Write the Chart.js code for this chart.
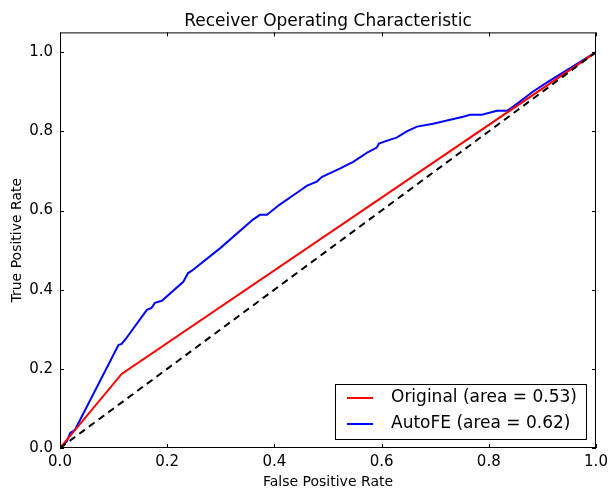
<!DOCTYPE html>
<html>
<head>
<meta charset="utf-8">
<script src="https://cdn.jsdelivr.net/npm/chart.js@4"></script>
<style>
  html, body { margin: 0; padding: 0; background: #fff; }
  #wrap { width: 608px; height: 491px; }
</style>
</head>
<body>
<div id="wrap"><canvas id="rocChart" width="608" height="491"></canvas></div>
<script>
// values
const chanceX = [0, 1];
const chanceY = [0, 1];
const originalFpr = [0, 0.115, 1];
const originalTpr = [0, 0.187, 1];
const autofeFpr = [0, 0.0125, 0.019, 0.028, 0.109, 0.115, 0.123, 0.162, 0.171, 0.177, 0.19, 0.23, 0.239, 0.246, 0.299,
    0.36, 0.373, 0.386, 0.41, 0.442, 0.461, 0.479, 0.489, 0.522, 0.547, 0.573, 0.591, 0.595, 0.616, 0.628, 0.647,
    0.666, 0.696, 0.752, 0.765, 0.787, 0.815, 0.834, 0.845, 0.882, 0.908, 1];
const autofeTpr = [0, 0.016, 0.038, 0.046, 0.26, 0.263, 0.276, 0.349, 0.354, 0.367, 0.372, 0.42, 0.442, 0.448, 0.505,
    0.577, 0.589, 0.589, 0.615, 0.645, 0.663, 0.673, 0.685, 0.706, 0.723, 0.746, 0.759, 0.769, 0.779, 0.784, 0.8,
    0.812, 0.819, 0.837, 0.842, 0.842, 0.852, 0.852, 0.862, 0.9, 0.923, 1];
const xTicks = [0, 0.2, 0.4, 0.6, 0.8, 1.0];
const yTicks = [0, 0.2, 0.4, 0.6, 0.8, 1.0];

const toPoints = (xs, ys) => xs.map((x, i) => ({ x, y: ys[i] }));
const FONT = "'DejaVu Sans', sans-serif";

// box around the plot, inward ticks on all four sides, legend in lower right
const framePlugin = {
    id: 'frame',
    afterDraw(chart) {
        const { ctx, chartArea: a, scales } = chart;
        ctx.save();
        ctx.strokeStyle = '#000';
        ctx.lineWidth = 1;
        ctx.strokeRect(a.left + 0.5, a.top + 0.5, a.right - a.left - 1, a.bottom - a.top - 1);
        ctx.beginPath();
        xTicks.forEach(v => {
            const px = Math.round(scales.x.getPixelForValue(v)) + 0.5;
            ctx.moveTo(px, a.bottom); ctx.lineTo(px, a.bottom - 4);
            ctx.moveTo(px, a.top); ctx.lineTo(px, a.top + 4);
        });
        yTicks.forEach(v => {
            const py = Math.round(scales.y.getPixelForValue(v)) + 0.5;
            ctx.moveTo(a.left, py); ctx.lineTo(a.left + 4, py);
            ctx.moveTo(a.right, py); ctx.lineTo(a.right - 4, py);
        });
        ctx.stroke();

        // legend
        const items = chart.data.datasets.filter(d => d.label);
        const boxW = 251, boxH = 55;
        const bx = a.right - 10 - boxW, by = a.bottom - 9 - boxH;
        ctx.fillStyle = '#fff';
        ctx.fillRect(bx, by, boxW, boxH);
        ctx.strokeStyle = '#000';
        ctx.strokeRect(bx + 0.5, by + 0.5, boxW, boxH);
        ctx.font = '17px ' + FONT;
        ctx.textBaseline = 'middle';
        items.forEach((d, i) => {
            const y = by + 14 + i * 26;
            ctx.strokeStyle = d.borderColor;
            ctx.lineWidth = 2;
            ctx.beginPath();
            ctx.moveTo(bx + 12, y); ctx.lineTo(bx + 38, y);
            ctx.stroke();
            ctx.fillStyle = '#000';
            ctx.fillText(d.label, bx + 56, y);
        });
        ctx.restore();
    }
};

const ctx = document.getElementById('rocChart').getContext('2d');
new Chart(ctx, {
    type: 'scatter',
    data: {
        datasets: [
            {
                data: toPoints(chanceX, chanceY),
                borderColor: '#000',
                borderWidth: 2,
                borderDash: [7, 5],
                showLine: true,
                pointRadius: 0
            },
            {
                label: 'Original (area = 0.53)',
                data: toPoints(originalFpr, originalTpr),
                borderColor: '#ff0000',
                borderWidth: 2,
                showLine: true,
                pointRadius: 0
            },
            {
                label: 'AutoFE (area = 0.62)',
                data: toPoints(autofeFpr, autofeTpr),
                borderColor: '#0000ff',
                borderWidth: 2,
                showLine: true,
                pointRadius: 0
            }
        ]
    },
    options: {
        responsive: false,
        animation: false,
        layout: { padding: { left: 0, right: 12, top: 0, bottom: 0 } },
        plugins: {
            legend: { display: false },
            tooltip: { enabled: false },
            title: {
                display: true,
                text: 'Receiver Operating Characteristic',
                color: '#000',
                fullSize: false,
                font: { family: FONT, size: 17, weight: 'normal' },
                padding: { top: 11, bottom: 1 }
            }
        },
        scales: {
            x: {
                type: 'linear',
                min: 0,
                max: 1,
                afterBuildTicks: s => { s.ticks = xTicks.map(v => ({ value: v })); },
                afterFit: s => { s.height = 43; s.paddingLeft = 0; s.paddingRight = 0; },
                grid: { display: false, drawTicks: false },
                border: { display: false },
                ticks: {
                    color: '#000',
                    padding: 5,
                    maxRotation: 0,
                    font: { family: FONT, size: 15 },
                    callback: v => v.toFixed(1)
                },
                title: {
                    display: true,
                    text: 'False Positive Rate',
                    color: '#000',
                    font: { family: FONT, size: 14 },
                    padding: { top: 2, bottom: 0 }
                }
            },
            y: {
                type: 'linear',
                min: 0,
                max: 1.05,
                afterBuildTicks: s => { s.ticks = yTicks.map(v => ({ value: v })); },
                afterFit: s => { s.width = 60; s.paddingTop = 0; s.paddingBottom = 0; },
                grid: { display: false, drawTicks: false },
                border: { display: false },
                ticks: {
                    color: '#000',
                    padding: 7,
                    font: { family: FONT, size: 15 },
                    callback: v => v.toFixed(1)
                },
                title: {
                    display: true,
                    text: 'True Positive Rate',
                    color: '#000',
                    font: { family: FONT, size: 14 },
                    padding: { top: 9, bottom: 0 }
                }
            }
        }
    },
    plugins: [framePlugin]
});
</script>
</body>
</html>
